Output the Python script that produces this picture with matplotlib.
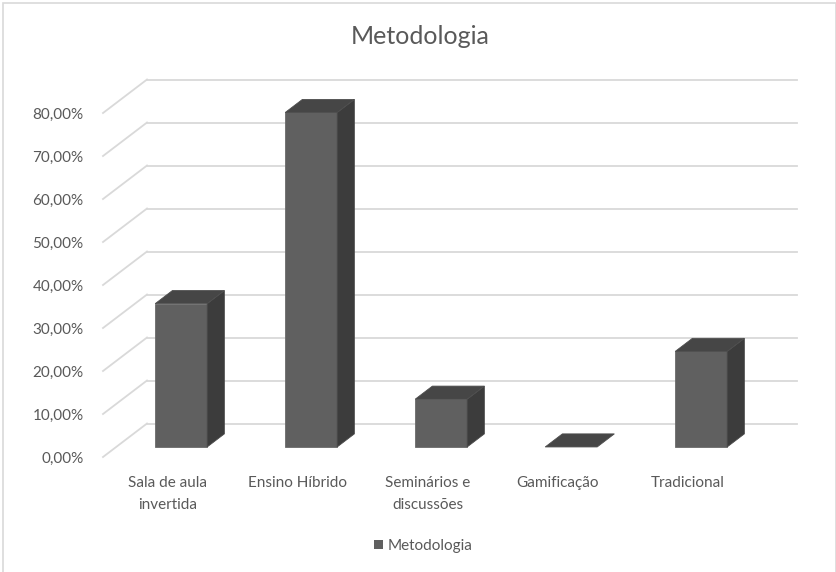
import matplotlib.pyplot as plt
from matplotlib.patches import Polygon, Patch, Rectangle

categories = ["Sala de aula\ninvertida", "Ensino Híbrido", "Seminários e\ndiscussões", "Gamificação", "Tradicional"]
values = [33.33, 77.78, 11.11, 0.0, 22.22]
yticks = [0, 10, 20, 30, 40, 50, 60, 70, 80]
ytick_labels = ["0,00%", "10,00%", "20,00%", "30,00%", "40,00%", "50,00%", "60,00%", "70,00%", "80,00%"]

plt.rcParams["font.family"] = ["Lato", "DejaVu Sans"]

W, H = 837, 572
fig = plt.figure(figsize=(W / 100, H / 100), dpi=100)

# axes box in pixels: front plane from x=103, 0% at y=457
px_per_cat = 130.0
px_per_pct = 4.3
left_px, right_px = 103, 798
bottom_px, top_px = 457, 60
ax = fig.add_axes([left_px / W, 1 - bottom_px / H,
                   (right_px - left_px) / W, (bottom_px - top_px) / H])
ax.set_xlim(-0.5, -0.5 + (right_px - left_px) / px_per_cat)
ax.set_ylim(0, (bottom_px - top_px) / px_per_pct)
for s in ax.spines.values():
    s.set_visible(False)

# oblique depth offset (back wall) in data units
ddx = 44 / px_per_cat
ddy = 33.5 / px_per_pct
n = len(categories)

grid_c = "#d9d9d9"
for v in yticks:
    ax.plot([-0.5, -0.5 + ddx], [v, v + ddy], color=grid_c, lw=1.3, clip_on=False, zorder=1)
    ax.plot([-0.5 + ddx, n - 0.5 + ddx], [v + ddy, v + ddy], color=grid_c, lw=1.3,
            clip_on=False, zorder=1)

# 3D columns
w = 0.4
f, b = 0.3, 0.69
front_c, side_c, top_c = "#606060", "#3c3c3c", "#464646"
for i, v in enumerate(values):
    x0, x1 = i - w / 2, i + w / 2
    front = [(x0 + f * ddx, f * ddy), (x1 + f * ddx, f * ddy),
             (x1 + f * ddx, v + f * ddy), (x0 + f * ddx, v + f * ddy)]
    side = [(x1 + f * ddx, f * ddy), (x1 + b * ddx, b * ddy),
            (x1 + b * ddx, v + b * ddy), (x1 + f * ddx, v + f * ddy)]
    top = [(x0 + f * ddx, v + f * ddy), (x1 + f * ddx, v + f * ddy),
           (x1 + b * ddx, v + b * ddy), (x0 + b * ddx, v + b * ddy)]
    if v > 0:
        ax.add_patch(Polygon(front, closed=True, fc=front_c, ec="#6a6a6a", lw=0.6, zorder=3, clip_on=False))
        ax.add_patch(Polygon(side, closed=True, fc=side_c, ec="#4a4a4a", lw=0.6, zorder=3, clip_on=False))
    ax.add_patch(Polygon(top, closed=True, fc=top_c, ec="#4e4e4e", lw=0.6, zorder=3, clip_on=False))

text_c = "#595959"
ax.set_yticks(yticks)
ax.set_yticklabels(ytick_labels)
ax.set_xticks(range(n))
ax.set_xticklabels(categories, linespacing=1.7)
ax.tick_params(axis="y", length=0, pad=14, labelsize=11, labelcolor=text_c)
ax.tick_params(axis="x", length=0, pad=14, labelsize=11, labelcolor=text_c)

fig.text(420 / W, 1 - 36 / H, "Metodologia", ha="center", va="center", fontsize=18, color=text_c)

fig.legend(handles=[Patch(facecolor=front_c, label="Metodologia")], loc="center",
           bbox_to_anchor=(423 / W, 1 - 546 / H), frameon=False, fontsize=11,
           handlelength=0.6, handleheight=0.6, handletextpad=0.3, labelcolor=text_c)

# chart border
fig.patches.append(Rectangle((3.5 / W, -0.05), (836 - 3.5) / W, 1.05 - 2.5 / H,
                             transform=fig.transFigure, fill=False, ec="#d9d9d9", lw=1.2))

fig.savefig("out.png", dpi=100)
